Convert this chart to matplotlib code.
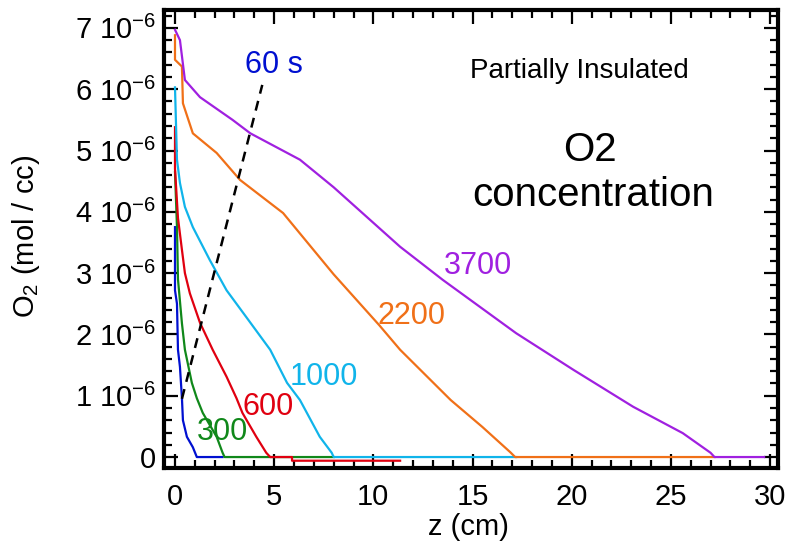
import numpy as np
import matplotlib
matplotlib.use("Agg")
from matplotlib import pyplot as plt
from matplotlib.ticker import MultipleLocator, FixedLocator

plt.rcParams['font.family'] = ['Liberation Sans', 'DejaVu Sans']
plt.rcParams['mathtext.fontset'] = 'custom'
plt.rcParams['mathtext.rm'] = 'Liberation Sans'
plt.rcParams['mathtext.it'] = 'Liberation Sans'
plt.rcParams['mathtext.default'] = 'regular'

# O2 profiles, z in cm, O2 in 1e-6 mol/cc
z_60 = [0, 0, 0.1, 0.15, 0.25, 0.35, 0.4, 0.6, 0.9, 1.1, 2.4]
o_60 = [3.75, 2.72, 2.5, 1.75, 1.47, 0.96, 0.6, 0.33, 0.16, 0, 0]

z_300 = [0, 0.1, 0.15, 0.35, 0.5, 0.85, 1.1, 1.4, 2.1, 2.4, 2.5, 8.0]
o_300 = [4.65, 3.75, 2.9, 2.18, 1.75, 1.21, 0.96, 0.72, 0.33, 0.07, 0, 0]

z_600 = [0, 0, 0.15, 0.35, 0.5, 0.75, 1.26, 1.9, 2.6, 3.1, 3.4, 4.1, 4.6, 4.8, 5.9, 5.9, 11.35]
o_600 = [5.38, 4.7, 3.9, 3.38, 3.0, 2.67, 2.19, 1.75, 1.31, 0.96, 0.72, 0.33, 0.07, 0, 0, -0.06, -0.06]

z_1000 = [0, 0.1, 0.25, 0.5, 0.9, 1.76, 2.6, 3.6, 4.8, 5.65, 6.3, 6.65, 7.3, 7.9, 8.0, 17.2]
o_1000 = [6.03, 4.85, 4.47, 4.08, 3.75, 3.21, 2.72, 2.28, 1.75, 1.21, 0.93, 0.72, 0.33, 0.07, 0, 0]

z_2200 = [0, 0, 0.35, 0.4, 0.9, 2.1, 3.28, 5.45, 8.0, 10.3, 11.35, 13.9, 15.5, 16.9, 17.15, 27.2]
o_2200 = [6.88, 6.48, 6.37, 5.77, 5.28, 4.96, 4.52, 3.98, 2.98, 2.15, 1.75, 0.93, 0.49, 0.08, 0, 0]

z_3700 = [0, 0.25, 0.5, 1.26, 2.9, 3.8, 6.3, 8.0, 11.35, 13.5, 17.2, 20.1, 23.1, 25.6, 27.0, 27.2, 29.7]
o_3700 = [6.97, 6.8, 6.15, 5.87, 5.5, 5.28, 4.85, 4.4, 3.43, 2.89, 2.02, 1.42, 0.82, 0.39, 0.07, 0, 0]

# dashed guide
z_dash = [0.35, 4.4]
o_dash = [0.95, 6.07]

labels = ['60 s', '300', '600', '1000', '2200', '3700']
colors = ['#0010D0', '#10881A', '#E00010', '#10B4EA', '#F07018', '#A020E0']
label_z = [5.0, 2.37, 4.7, 7.5, 11.9, 15.3]
label_o = [6.39, 0.41, 0.82, 1.3, 2.3, 3.12]

profiles = [(z_60, o_60), (z_300, o_300), (z_600, o_600),
            (z_1000, o_1000), (z_2200, o_2200), (z_3700, o_3700)]

fig = plt.figure(figsize=(7.87, 5.43), dpi=100)
ax = fig.add_axes([0.209, 0.139, 0.779, 0.8435])

for (zz, oo), c in zip(profiles, colors):
    ax.plot(zz, np.array(oo) * 1e-6, color=c, lw=1.6)

ax.plot(z_dash, np.array(o_dash) * 1e-6, color='black', lw=1.8, ls=(0, (4, 3)))

for lab, c, lz, lo in zip(labels, colors, label_z, label_o):
    ax.text(lz, lo * 1e-6, lab, color=c, fontsize=22, ha='center', va='center')

ax.text(20.4, 6.3e-6, 'Partially Insulated', fontsize=20, ha='center', va='center')
ax.text(20.9, 5.01e-6, 'O2', fontsize=29, ha='center', va='center')
ax.text(21.1, 4.27e-6, 'concentration', fontsize=29, ha='center', va='center')

ax.set_xlim(-0.53, 30.38)
ax.set_ylim(-0.171e-6, 7.30e-6)

ax.xaxis.set_major_locator(MultipleLocator(5))
ax.xaxis.set_minor_locator(MultipleLocator(1))
yt = [i * 1e-6 for i in range(8)]
ax.yaxis.set_major_locator(FixedLocator(yt))
ax.yaxis.set_minor_locator(MultipleLocator(0.2e-6))
ax.set_yticklabels(['0'] + [r'%d 10$^{-6}$' % i for i in range(1, 8)])

ax.tick_params(which='both', direction='in', top=True, right=True, width=1.6,
               labelsize=21)
ax.tick_params(axis='x', which='both', pad=11)
ax.tick_params(axis='y', which='both', pad=6)
ax.tick_params(which='major', length=10)
ax.tick_params(which='minor', length=5.5)
for s in ax.spines.values():
    s.set_linewidth(3)

ax.set_xlabel('z (cm)', fontsize=21)
ax.set_ylabel(r'O$_2$ (mol / cc)', fontsize=21)
ax.xaxis.set_label_coords(0.495, -0.1)
ax.yaxis.set_label_coords(-0.2, 0.505)

fig.savefig('out.png', dpi=100)
